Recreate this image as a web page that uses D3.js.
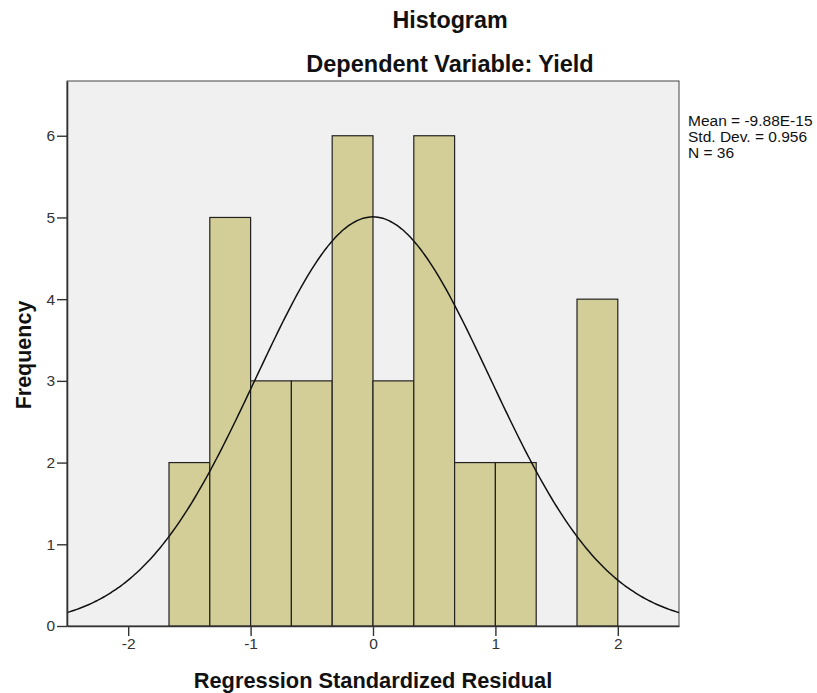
<!DOCTYPE html>
<html><head><meta charset="utf-8">
<script src="https://cdn.jsdelivr.net/npm/d3@7"></script>
<style>body{margin:0;background:#fff}svg text{font-family:"Liberation Sans",Arial,sans-serif}</style>
</head><body><svg id="c" width="817" height="693"></svg>
<script>
const binEdgesLow = [-5/3,-4/3,-1,-2/3,-1/3,0,1/3,2/3,1,4/3,5/3];
const binWidth = 1/3;
const counts = [2,5,3,3,6,3,6,2,2,0,4];
const xTicks = [-2,-1,0,1,2];
const yTicks = [0,1,2,3,4,5,6];
const stats = {mean:-9.88e-15, sd:0.956, n:36};
const legendLines = ["Mean = -9.88E-15","Std. Dev. = 0.956","N = 36"];

const svg = d3.select("#c");
const L=67,R=679,T=81,B=626;
const x = d3.scaleLinear().domain([-2.5,2.5]).range([L,R]);
const y = d3.scaleLinear().domain([0,6.67]).range([B,T]);

svg.append("rect").attr("x",L).attr("y",T).attr("width",R-L).attr("height",B-T).attr("fill","#f0f0f0").attr("stroke","#444").attr("stroke-width",1);

const bins = binEdgesLow.map((lo,i)=>({lo,hi:lo+binWidth,c:counts[i]})).filter(d=>d.c>0);
svg.selectAll("rect.bar").data(bins).enter().append("rect").attr("class","bar")
 .attr("x",d=>x(d.lo)).attr("width",d=>x(d.hi)-x(d.lo))
 .attr("y",d=>y(d.c)).attr("height",d=>y(0)-y(d.c))
 .attr("fill","#d3ce97").attr("stroke","#222").attr("stroke-width",1.2);

const pdf = v => stats.n*binWidth/(stats.sd*Math.sqrt(2*Math.PI))*Math.exp(-0.5*((v-stats.mean)/stats.sd)**2);
const xs = d3.range(-2.5,2.5001,0.02);
svg.append("path").datum(xs).attr("fill","none").attr("stroke","#111").attr("stroke-width",1.5)
 .attr("d",d3.line().x(v=>x(v)).y(v=>y(pdf(v))).curve(d3.curveBasis));

const fmt = d => String(d);
const xa = svg.append("g").attr("transform",`translate(0,${B})`).call(d3.axisBottom(x).tickValues(xTicks).tickSize(10).tickSizeOuter(0).tickPadding(2).tickFormat(fmt));
const ya = svg.append("g").attr("transform",`translate(${L},0)`).call(d3.axisLeft(y).tickValues(yTicks).tickSize(10).tickSizeOuter(0).tickPadding(2).tickFormat(fmt));
[xa,ya].forEach(a=>{a.select(".domain").attr("stroke","#333").attr("stroke-width",1.6);
 a.selectAll(".tick line").attr("stroke","#333").attr("stroke-width",1.4);
 a.selectAll(".tick text").attr("font-size",15.5).attr("fill","#333").attr("font-family","Liberation Sans, Arial, sans-serif");});

svg.append("text").attr("x",450).attr("y",28).attr("text-anchor","middle").attr("font-size",23.3).attr("font-weight","bold").attr("fill","#111").text("Histogram");
svg.append("text").attr("x",450).attr("y",72).attr("text-anchor","middle").attr("font-size",23.5).attr("font-weight","bold").attr("fill","#111").text("Dependent Variable: Yield");
svg.append("text").attr("x",373).attr("y",688).attr("text-anchor","middle").attr("font-size",21.8).attr("font-weight","bold").attr("fill","#111").text("Regression Standardized Residual");
svg.append("text").attr("transform","translate(31,355) rotate(-90)").attr("text-anchor","middle").attr("font-size",21.5).attr("font-weight","bold").attr("fill","#111").text("Frequency");

svg.selectAll("text.leg").data(legendLines).enter().append("text").attr("class","leg")
 .attr("x",688).attr("y",(d,i)=>126+i*16).attr("font-size",15.5).attr("fill","#111").text(d=>d);
</script></body></html>
